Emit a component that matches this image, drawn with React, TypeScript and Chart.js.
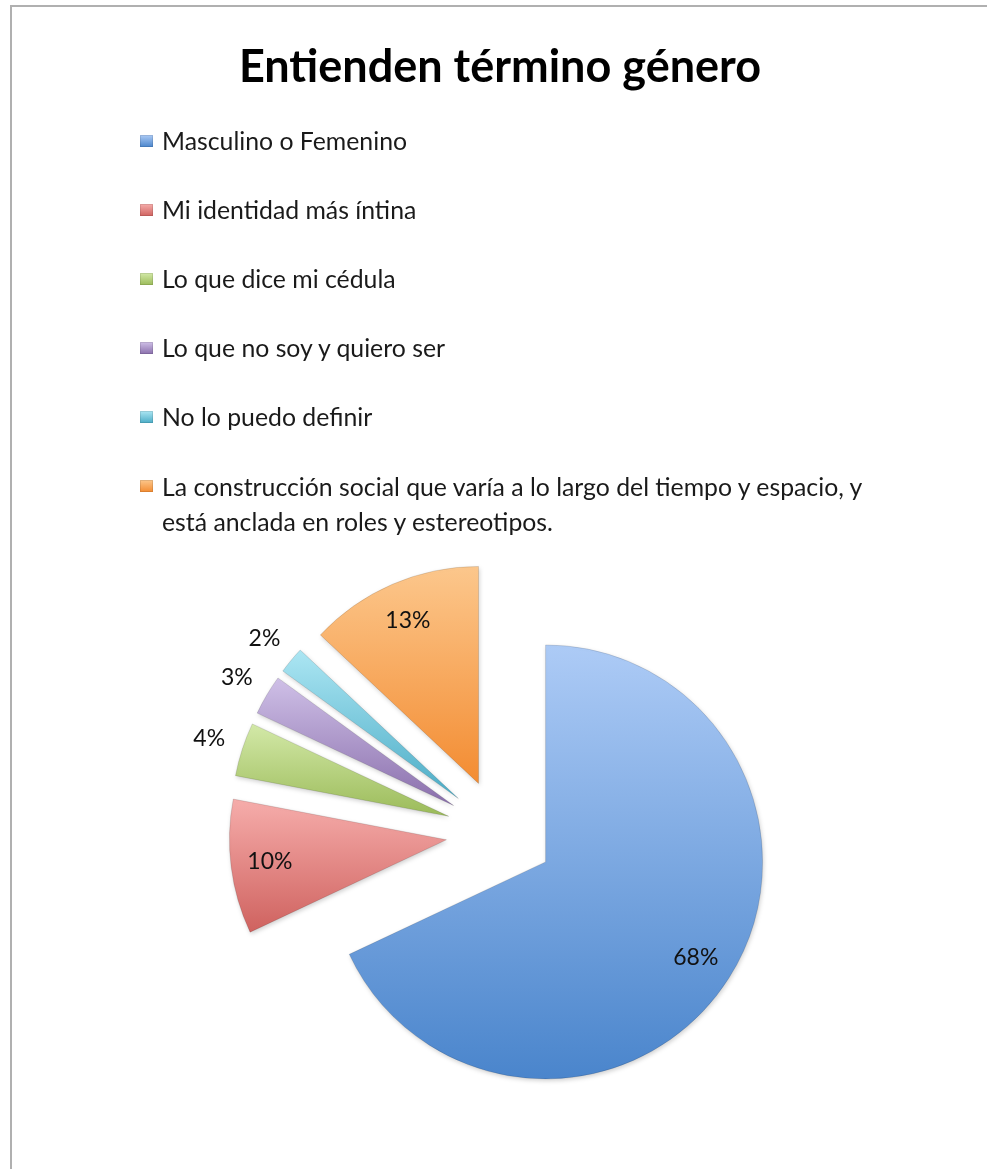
import React, { useEffect, useRef } from "react";
import { Chart, registerables } from "chart.js";

Chart.register(...registerables);

const TITLE = "Entienden término género";
const categories = [
  "Masculino o Femenino",
  "Mi identidad más íntina",
  "Lo que dice mi cédula",
  "Lo que no soy y quiero ser",
  "No lo puedo definir",
  "La construcción social que varía a lo largo del tiempo y espacio, y está anclada en roles y estereotipos.",
];
const values = [68, 10, 4, 3, 2, 13];
const lightColors = ["#adcbf6", "#f6adab", "#d3e9a8", "#cfc0e7", "#ace6f3", "#fcc78c"];
const darkColors = ["#4a85cc", "#cf625f", "#9bbb59", "#8a6fac", "#4bacc6", "#f38c32"];

const W = 987;
const H = 1169;
const RADIUS = 217;
const EXPLODE = 54;
const CENTER_X = 500;
const CENTER_Y = 833;
const FONT = "Lato, 'Open Sans', sans-serif";

function sliceGradient(c: any) {
  const chart = c.chart;
  const i = c.dataIndex;
  const area = chart.chartArea;
  if (!area) return darkColors[i];
  const data: number[] = c.dataset.data;
  const total = data.reduce((a, b) => a + b, 0);
  let cum = 0;
  for (let j = 0; j < i; j++) cum += data[j];
  const a0 = -Math.PI / 2 + (2 * Math.PI * cum) / total;
  const a1 = a0 + (2 * Math.PI * data[i]) / total;
  const cy = (area.top + area.bottom) / 2;
  const ys = [cy, cy + RADIUS * Math.sin(a0), cy + RADIUS * Math.sin(a1)];
  for (const k of [-Math.PI / 2, Math.PI / 2, (3 * Math.PI) / 2]) {
    if (k >= a0 && k <= a1) ys.push(cy + RADIUS * Math.sin(k));
  }
  const top = Math.min(...ys);
  const bottom = Math.max(...ys);
  const g = chart.ctx.createLinearGradient(0, top, 0, bottom);
  g.addColorStop(0, lightColors[i]);
  g.addColorStop(1, darkColors[i]);
  return g;
}

const explodePlugin = {
  id: "explodeSlices",
  beforeDatasetsDraw(chart: any) {
    const meta = chart.getDatasetMeta(0);
    const ctx = chart.ctx;
    meta.data.forEach((arc: any) => {
      const { startAngle, endAngle } = arc.getProps(["startAngle", "endAngle"], true);
      const mid = (startAngle + endAngle) / 2;
      ctx.save();
      ctx.shadowColor = "rgba(0,0,0,0.18)";
      ctx.shadowBlur = 4;
      ctx.shadowOffsetX = 1;
      ctx.shadowOffsetY = 2;
      ctx.translate(Math.cos(mid) * EXPLODE, Math.sin(mid) * EXPLODE);
      arc.draw(ctx);
      ctx.restore();
    });
    return false;
  },
};

const labelPlugin = {
  id: "sliceLabels",
  afterDraw(chart: any) {
    const meta = chart.getDatasetMeta(0);
    const ctx = chart.ctx;
    const data: number[] = chart.data.datasets[0].data;
    const total = data.reduce((a, b) => a + b, 0);
    ctx.save();
    ctx.font = `23px ${FONT}`;
    ctx.fillStyle = "#111";
    ctx.textAlign = "center";
    ctx.textBaseline = "middle";
    meta.data.forEach((arc: any, i: number) => {
      const { x, y, startAngle, endAngle, outerRadius } = arc.getProps(
        ["x", "y", "startAngle", "endAngle", "outerRadius"],
        true
      );
      const mid = (startAngle + endAngle) / 2;
      const pct = Math.round((data[i] / total) * 100);
      const k = pct < 5 ? 1.16 : 0.82;
      const d = EXPLODE + k * outerRadius;
      ctx.fillText(pct + "%", x + Math.cos(mid) * d, y + Math.sin(mid) * d);
    });
    ctx.restore();
  },
};

export default function App() {
  const ref = useRef<HTMLCanvasElement | null>(null);

  useEffect(() => {
    if (!ref.current) return;
    const chart = new Chart(ref.current, {
      type: "pie",
      data: {
        labels: categories,
        datasets: [
          {
            data: values,
            backgroundColor: sliceGradient as any,
            borderColor: "rgba(0,0,0,0.12)",
            borderWidth: 1,
          },
        ],
      },
      options: {
        responsive: false,
        animation: false,
        radius: RADIUS,
        layout: {
          padding: {
            left: 2 * CENTER_X - W,
            right: 0,
            top: 2 * CENTER_Y - H,
            bottom: 0,
          },
        },
        plugins: {
          legend: { display: false },
          title: { display: false },
          tooltip: { enabled: false },
        },
      } as any,
      plugins: [explodePlugin, labelPlugin],
    });
    return () => chart.destroy();
  }, []);

  const last = categories.length - 1;

  return (
    <div style={{ position: "absolute", left: 0, top: 0, width: W, height: H, background: "#fff", overflow: "hidden" }}>
      <div
        style={{
          position: "absolute",
          left: 10,
          top: 5,
          width: W,
          height: H,
          borderLeft: "2px solid #b0b0b0",
          borderTop: "2px solid #b0b0b0",
        }}
      />
      <canvas ref={ref} width={W} height={H} style={{ position: "absolute", left: 0, top: 0, width: W, height: H }} />
      <div
        style={{
          position: "absolute",
          left: 0,
          top: 38,
          width: 2 * CENTER_X,
          textAlign: "center",
          fontFamily: FONT,
          fontWeight: 700,
          fontSize: 45,
          lineHeight: "54px",
          color: "#000",
        }}
      >
        {TITLE}
      </div>
      {categories.map((label, i) => (
        <div key={label} style={{ position: "absolute", left: 140, top: 126 + 69 * i, width: 780 }}>
          <div
            style={{
              position: "absolute",
              left: 0,
              top: 9,
              width: 13,
              height: 12,
              background: `linear-gradient(180deg, ${lightColors[i]}, ${darkColors[i]})`,
              boxShadow: "inset 0 0 0 1px rgba(0,0,0,0.1)",
            }}
          />
          <div
            style={{
              marginLeft: 22,
              width: 700,
              fontFamily: FONT,
              fontSize: 24.8,
              lineHeight: i === last ? "35px" : "30px",
              color: "#1a1a1a",
              marginTop: i === last ? -2.5 : 0,
            }}
          >
            {label}
          </div>
        </div>
      ))}
    </div>
  );
}
